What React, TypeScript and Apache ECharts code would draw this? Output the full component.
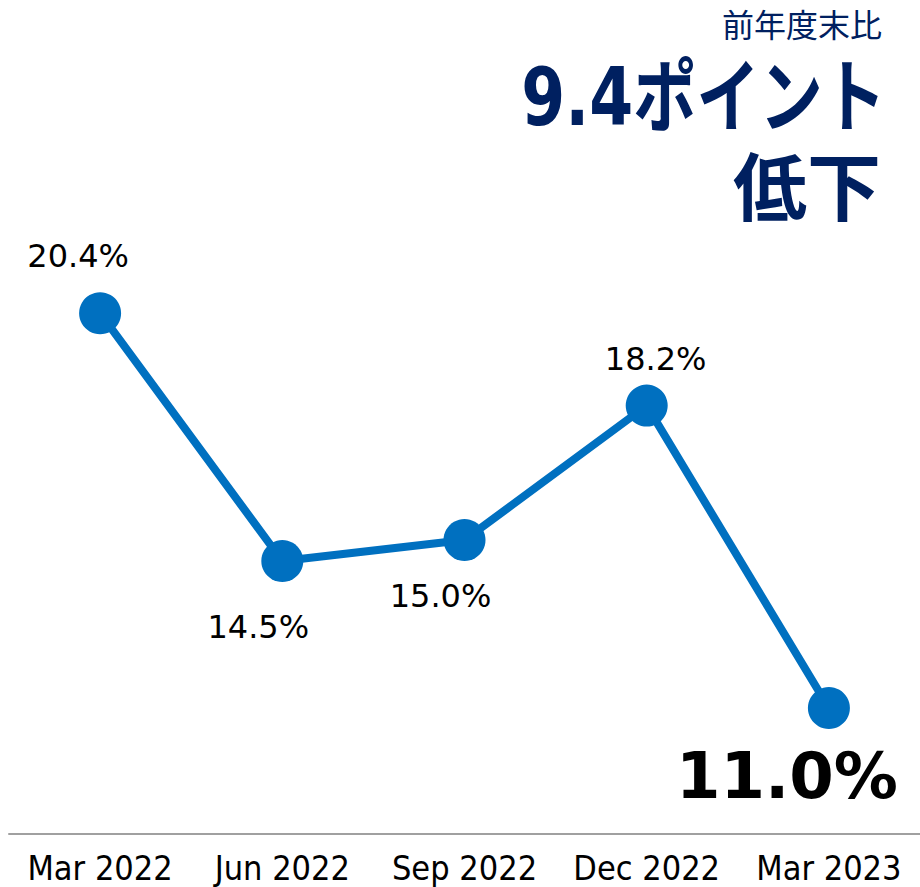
import React, { useEffect, useRef } from "react";
import * as echarts from "echarts";

const categories = ["Mar 2022", "Jun 2022", "Sep 2022", "Dec 2022", "Mar 2023"];
const values = [20.4, 14.5, 15.0, 18.2, 11.0];
const labelOffsets: [number, number][] = [
  [-22, -57],
  [-24, 66],
  [-24, 56],
  [9, -47],
  [-42, 68],
];
const titleSmall = "前年度末比";
const titleLine1 = "9.4ポイント";
const titleLine2 = "低下";

export default function App() {
  const ref = useRef<HTMLDivElement>(null);
  useEffect(() => {
    if (!ref.current) return;
    const chart = echarts.init(ref.current, undefined, { renderer: "svg" });
    const last = values.length - 1;
    chart.setOption({
      animation: false,
      backgroundColor: "#ffffff",
      grid: { left: 9, right: 0, top: 246, bottom: 53, containLabel: false },
      xAxis: {
        type: "category",
        data: categories,
        boundaryGap: true,
        axisLine: { show: true, lineStyle: { color: "#a0a0a0", width: 2 } },
        axisTick: { show: false },
        axisLabel: {
          interval: 0,
          color: "#000000",
          fontSize: 34,
          fontFamily: '"DejaVu Sans Condensed", "DejaVu Sans"',
          margin: 17,
        },
      },
      yAxis: {
        type: "value",
        min: 8,
        max: 22,
        show: false,
        splitLine: { show: false },
      },
      graphic: [
        {
          type: "text",
          x: 882,
          y: 23,
          style: {
            text: titleSmall,
            fill: "#002060",
            align: "right",
            verticalAlign: "middle",
            lineHeight: 32,
            font: '32px "Noto Sans CJK JP"',
          },
        },
        {
          type: "text",
          x: 886,
          y: 97,
          scaleX: 0.79,
          style: {
            text: titleLine1,
            fill: "#002060",
            align: "right",
            verticalAlign: "middle",
            font: 'bold 80px "DejaVu Sans", "Noto Sans CJK JP"',
          },
        },
        {
          type: "text",
          x: 881,
          y: 182,
          style: {
            text: titleLine2,
            fill: "#002060",
            align: "right",
            verticalAlign: "middle",
            font: 'bold 74px "Noto Sans CJK JP"',
          },
        },
      ],
      series: [
        {
          type: "line",
          label: {
            show: true,
            position: "inside",
            formatter: (p: any) => p.value.toFixed(1) + "%",
            color: "#000000",
            fontFamily: "DejaVu Sans",
            fontSize: 32,
          },
          data: values.map((v, i) =>
            i === last
              ? {
                  value: v,
                  label: {
                    offset: labelOffsets[i],
                    fontSize: 64,
                    fontWeight: "bold",
                  },
                }
              : { value: v, label: { offset: labelOffsets[i] } }
          ),
          symbol: "circle",
          symbolSize: 42,
          lineStyle: { color: "#0070C0", width: 8 },
          itemStyle: { color: "#0070C0" },
        },
      ],
    });
    return () => chart.dispose();
  }, []);
  return (
    <div
      ref={ref}
      style={{ position: "fixed", left: 0, top: 0, width: 920, height: 887 }}
    />
  );
}
